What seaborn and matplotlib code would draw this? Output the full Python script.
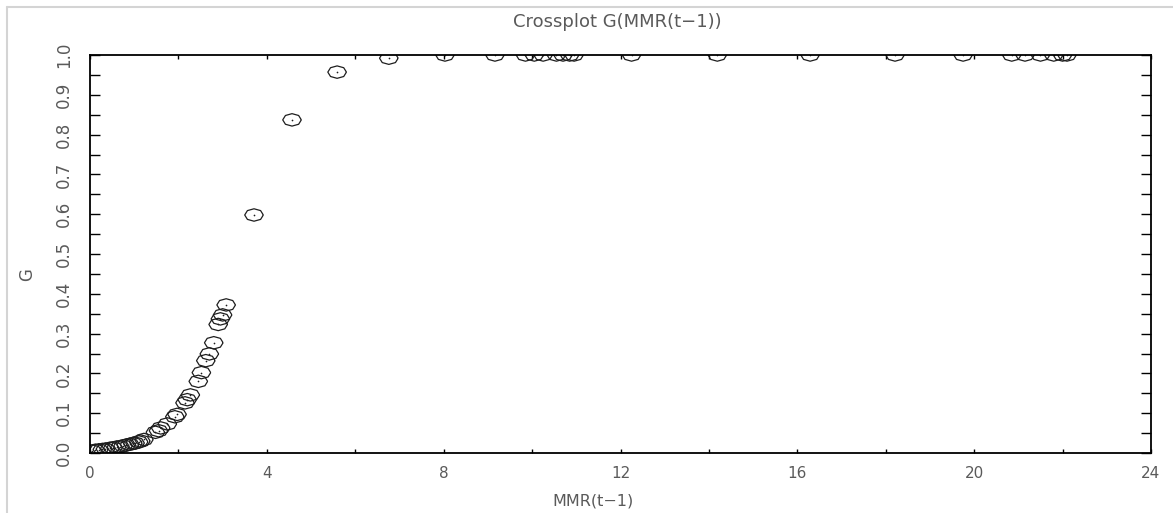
import numpy as np
import matplotlib
matplotlib.use("Agg")
import matplotlib.pyplot as plt
from matplotlib.lines import Line2D
from matplotlib import font_manager
import seaborn as sns

# ---- data ----
mmr_lag = [0.05, 0.12, 0.2, 0.28, 0.35, 0.45, 0.52, 0.6, 0.68, 0.75, 0.82, 0.9,
           0.97, 1.02, 1.1, 1.15, 1.22, 1.48, 1.55, 1.6, 1.75, 1.92, 1.97, 2.15,
           2.2, 2.27, 2.45, 2.52, 2.62, 2.7, 2.8, 2.9, 2.95, 3.0, 3.08, 3.71,
           4.57, 5.59, 6.76, 8.03, 9.16, 9.85, 10.05, 10.25, 10.55, 10.7, 10.85,
           10.95, 12.25, 14.19, 16.29, 18.21, 19.75, 20.85, 21.15, 21.5, 21.8,
           22.0, 22.1]
g_vals = [0.005, 0.007, 0.008, 0.009, 0.010, 0.012, 0.013, 0.015, 0.016, 0.018,
          0.020, 0.022, 0.024, 0.025, 0.028, 0.030, 0.034, 0.052, 0.056, 0.063,
          0.073, 0.091, 0.097, 0.126, 0.134, 0.146, 0.180, 0.202, 0.232, 0.249,
          0.277, 0.323, 0.337, 0.347, 0.372, 0.598, 0.837, 0.957, 0.992, 1.0,
          1.0, 1.0, 1.0, 1.0, 1.0, 1.0, 1.0, 1.0, 1.0, 1.0, 1.0, 1.0, 1.0, 1.0,
          1.0, 1.0, 1.0, 1.0, 1.0]

title = "Crossplot G(MMR(t\u22121))"
xlabel = "MMR(t\u22121)"
ylabel = "G"
xticks = [0, 4, 8, 12, 16, 20, 24]
yticks = [0.0, 0.1, 0.2, 0.3, 0.4, 0.5, 0.6, 0.7, 0.8, 0.9, 1.0]

sns.set_theme(style="white")
plt.rcParams["font.family"] = ["DejaVu Sans"]

text_col = "#5a5a5a"
ink = "#1e1e1e"

fig = plt.figure(figsize=(11.73, 5.13), dpi=100)
ax = fig.add_axes([90 / 1173, (513 - 453) / 513, (1151 - 90) / 1173, (453 - 55) / 513])

# stretched octagon marker
ang = np.deg2rad(np.arange(0, 361, 45))
verts = list(zip(1.5 * np.cos(ang), np.sin(ang)))

sns.scatterplot(x=mmr_lag, y=g_vals, ax=ax, marker=verts, s=180,
                facecolor="none", edgecolor=ink, linewidth=0.9, zorder=3,
                clip_on=True)
sns.scatterplot(x=mmr_lag, y=g_vals, ax=ax, marker="o", s=1.5,
                color=ink, edgecolor=ink, linewidth=0, zorder=4, clip_on=True)

ax.set_xlim(0, 24)
ax.set_ylim(0, 1)
ax.set_xticks(xticks)
ax.set_xticks(np.arange(0, 25, 2), minor=True)
ax.set_yticks(yticks)
ax.set_yticks(np.arange(0, 1.001, 0.05), minor=True)

for s in ax.spines.values():
    s.set_visible(True)
    s.set_color("black")
    s.set_linewidth(1.3)
    s.set_zorder(5)

ax.tick_params(axis="y", which="both", direction="in", length=7, width=1,
               color="black", left=True, right=True, pad=12)
ax.tick_params(axis="x", which="both", direction="in", length=3, width=1,
               color="black", bottom=True, top=True, pad=9)

# tick label fonts
avail = {f.name for f in font_manager.fontManager.ttflist}
narrow = "Liberation Sans Narrow" if "Liberation Sans Narrow" in avail else "DejaVu Sans"
ax.set_yticklabels([f"{v:.1f}" for v in yticks], rotation=90, va="center",
                   fontsize=12, color=text_col, family=narrow)
ax.set_xticklabels([str(v) for v in xticks], fontsize=11, color=text_col)

ax.set_xlabel(xlabel, fontsize=11.5, color=text_col)
ax.xaxis.set_label_coords((593 - 90) / 1061, (453 - 493) / 398)
ax.set_ylabel(ylabel, fontsize=12, color=text_col, family=narrow)
ax.yaxis.set_label_coords((36 - 90) / 1061, (453 - 275) / 398)

fig.text(617 / 1173, 1 - 22 / 513, title, ha="center", va="center",
         fontsize=13, color=text_col)

# light frame lines of the original image
fig.add_artist(Line2D([7 / 1173, 7 / 1173], [0, 1 - 7 / 513],
                      transform=fig.transFigure, color="#d4d4d4", lw=1.5))
fig.add_artist(Line2D([7 / 1173, 1], [1 - 7 / 513, 1 - 7 / 513],
                      transform=fig.transFigure, color="#d4d4d4", lw=1.5))

fig.savefig("out.png", dpi=100, facecolor="white")
